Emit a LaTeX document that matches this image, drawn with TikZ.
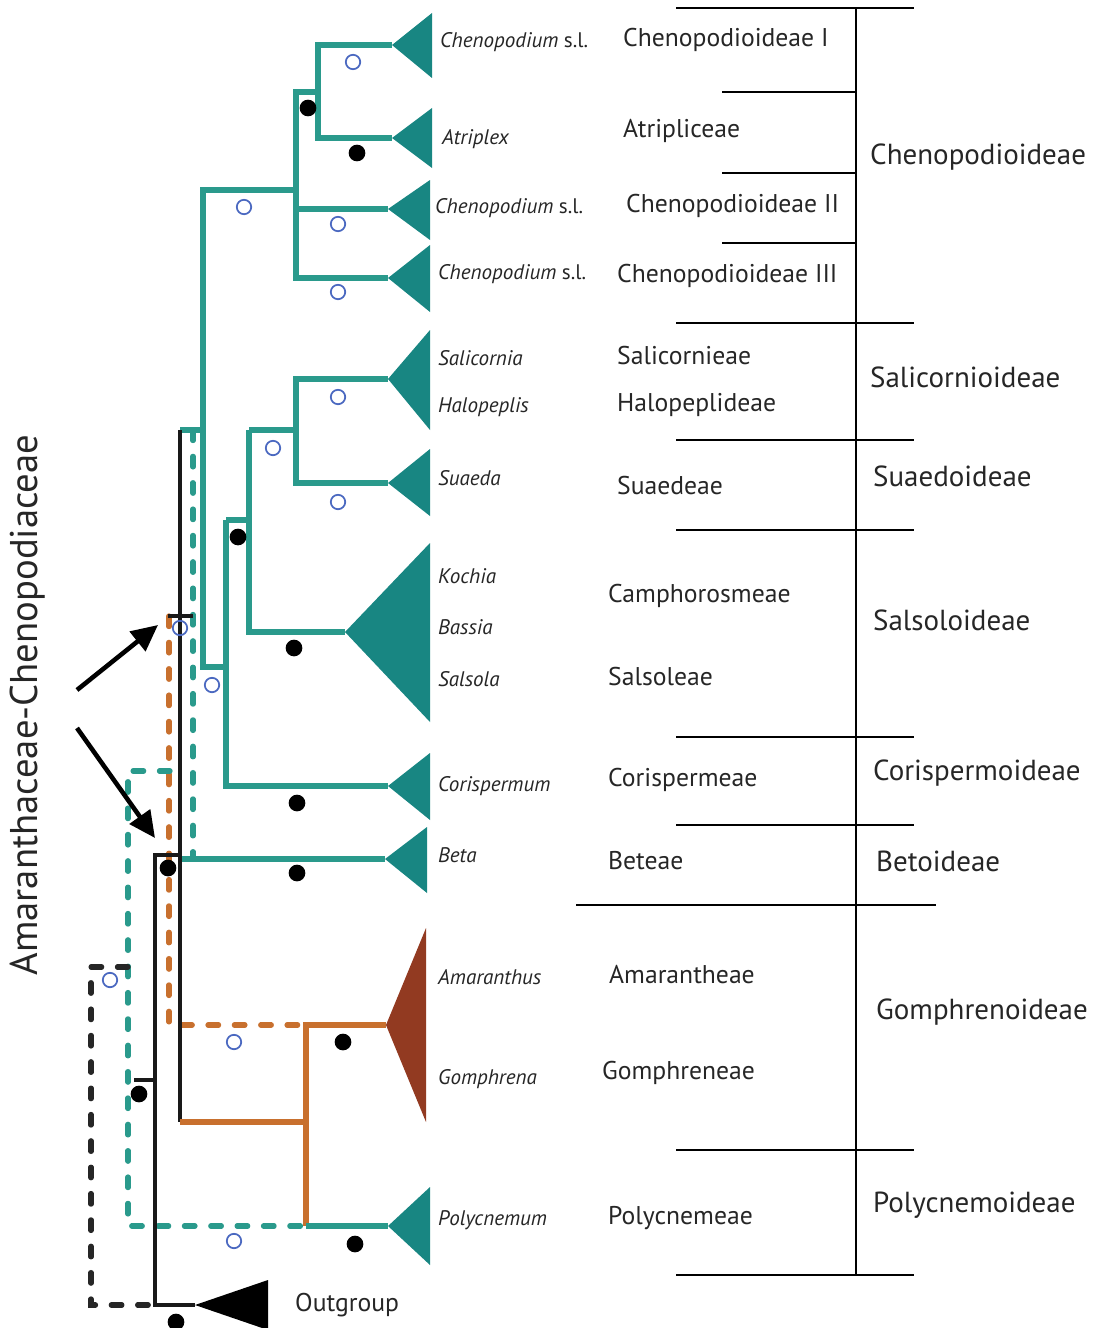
\documentclass[tikz,border=0pt]{standalone}
\usepackage{fontspec}
\setmainfont{PT Sans}
\usetikzlibrary{positioning,arrows.meta}

\definecolor{tealline}{HTML}{2A9A8C}
\definecolor{tealtri}{HTML}{188682}
\definecolor{orangeline}{HTML}{C8702E}
\definecolor{browntri}{HTML}{923A21}
\definecolor{bluecirc}{HTML}{4A68C0}

\tikzset{
  branch/.style={line width=3pt, tealline},
  obranch/.style={line width=3pt, orangeline},
  kbranch/.style={line width=2.6pt, black!90},
  dashbranch/.style={line width=3pt, line cap=round, dash pattern=on 6pt off 9pt},
  rule/.style={line width=1.6pt},
  opencirc/.style={circle, draw=bluecirc, line width=1pt, inner sep=0pt, minimum size=8.2pt},
  fulldot/.style={circle, fill=black, inner sep=0pt, minimum size=9.5pt},
  taxon/.style={anchor=west, font=\fontsize{12}{14}\selectfont\itshape, text=black!85},
  tribe/.style={anchor=west, font=\fontsize{14.6}{17}\selectfont, text=black!85},
  subfam/.style={anchor=west, font=\fontsize{16.5}{19}\selectfont, text=black!85}
}

\begin{document}
\begin{tikzpicture}[x=0.02cm, y=-0.02cm]
    \useasboundingbox (0,0) rectangle (1097,1328);

    % Clade tips
    \coordinate (chA) at (392,45);
    \coordinate (atr) at (392,138);
    \coordinate (chB) at (388,209);
    \coordinate (chC) at (388,278);
    \coordinate (sal) at (388,379);
    \coordinate (sua) at (388,483);
    \coordinate (koc) at (345,632);
    \coordinate (cor) at (388,786);
    \coordinate (bet) at (385,859);
    \coordinate (ama) at (386,1025);
    \coordinate (pol) at (388,1226);
    \coordinate (out) at (195,1305);

    % Inner nodes
    \coordinate (nA) at (318,92);
    \coordinate (nB) at (296,190);
    \coordinate (nC) at (203,430);
    \coordinate (nE) at (226,520);
    \coordinate (nG) at (249,430);
    \coordinate (nH) at (296,430);
    \coordinate (kTop) at (180,430);
    \coordinate (kMid) at (180,859);
    \coordinate (kLow) at (180,1122);
    \coordinate (oNode) at (306,1025);
    \coordinate (kRoot) at (155,1305);

    % Triangles
    \fill[tealtri] (chA) -- ++(40,-32) -- ++(0,65) -- cycle;
    \fill[tealtri] (atr) -- ++(40,-30) -- ++(0,60) -- cycle;
    \fill[tealtri] (chB) -- ++(42,-29) -- ++(0,60) -- cycle;
    \fill[tealtri] (chC) -- ++(42,-33) -- ++(0,67) -- cycle;
    \fill[tealtri] (sal) -- ++(42,-49) -- ++(0,100) -- cycle;
    \fill[tealtri] (sua) -- ++(42,-34) -- ++(0,67) -- cycle;
    \fill[tealtri] (koc) -- ++(85,-89) -- ++(0,179) -- cycle;
    \fill[tealtri] (cor) -- ++(42,-33) -- ++(0,67) -- cycle;
    \fill[tealtri] (bet) -- ++(42,-32) -- ++(0,66) -- cycle;
    \fill[browntri] (ama) -- ++(40,-97) -- ++(0,194) -- cycle;
    \fill[tealtri] (pol) -- ++(42,-39) -- ++(0,78) -- cycle;
    \fill[black] (out) -- ++(73,-25) -- ++(0,50) -- cycle;

    % Dashed alternative topologies
    \draw[dashbranch, tealline] (kTop) ++(13,0) -- (193,859);
    \draw[dashbranch, orangeline] (169,616) -- (169,1025) -- (oNode);
    \draw[dashbranch, tealline] (170,771) -- (128,771) -- (128,1226) -- (306,1226);
    \draw[dashbranch, black!85] (128,967) -- (91,967) -- (91,1305) -- (kRoot);

    % Chenopodioideae
    \draw[branch] (chA) -| (nA) |- (atr);
    \draw[branch] (nA) -- (296,92) |- (chC);
    \draw[branch] (296,209) -- (chB);
    \draw[branch] (nB) -| (nC);
    \draw[branch] (nC) -- (kTop);

    % Salicornioideae to Corispermoideae
    \draw[branch] (nC) |- (226,667);
    \draw[branch] (nE) |- (cor);
    \draw[branch] (nE) -| (nG) |- (koc);
    \draw[branch] (nG) -- (nH);
    \draw[branch] (sal) -| (nH) |- (sua);

    % Beta and black backbone
    \draw[branch] (kMid) -- (bet);
    \draw[kbranch] (kTop) -- (kLow);
    \draw[kbranch] (168,616) -- (193,616);
    \draw[kbranch] (kMid) ++(0,-4) -- (155,855) -- (kRoot) -- (out);
    \draw[kbranch] (134,1080) -- (155,1080);

    % Amaranthaceae s.str.
    \draw[obranch] (kLow) -| (oNode) -- (ama);
    \draw[obranch] (kLow -| oNode) -- (306,1226);
    \draw[branch] (306,1226) -- (pol);

    % Arrows
    \draw[line width=2.6pt, -{Triangle[length=15pt, width=14pt]}] (77,690) -- (158,625);
    \draw[line width=2.6pt, -{Triangle[length=15pt, width=14pt]}] (77,728) -- (155,838);

    % Support circles
    \node[opencirc] (c1) at (353,62) {};
    \node[opencirc] (c2) at (244,207) {};
    \node[opencirc] (c3) at (338,224) {};
    \node[opencirc] (c4) at (338,292) {};
    \node[opencirc] (c5) at (338,397) {};
    \node[opencirc] (c6) at (273,448) {};
    \node[opencirc] (c7) at (338,502) {};
    \node[opencirc] (c8) at (212,685) {};
    \node[opencirc] (c9) at (180,628) {};
    \node[opencirc] (c10) at (110,980) {};
    \node[opencirc] (c11) at (234,1042) {};
    \node[opencirc] (c12) at (234,1241) {};

    % Support dots
    \node[fulldot] (d1) at (308,108) {};
    \node[fulldot] (d2) at (357,153) {};
    \node[fulldot] (d3) at (238,537) {};
    \node[fulldot] (d4) at (294,648) {};
    \node[fulldot] (d5) at (297,803) {};
    \node[fulldot] (d6) at (297,873) {};
    \node[fulldot] (d7) at (168,868) {};
    \node[fulldot] (d8) at (139,1094) {};
    \node[fulldot] (d9) at (343,1042) {};
    \node[fulldot] (d10) at (355,1244) {};
    \node[fulldot] (d11) at (176,1322) {};

    % Taxon labels
    \node[taxon] (tChA) at (434,42) {Chenopodium \upshape s.l.};
    \node[taxon] (tAtr) at (436,139) {Atriplex};
    \node[taxon] (tChB) at (429,208) {Chenopodium \upshape s.l.};
    \node[taxon] (tChC) at (432,274) {Chenopodium \upshape s.l.};
    \node[taxon] (tSal) at (432,358) {Salicornia};
    \node[taxon] (tHal) at (432,407) {Halopeplis};
    \node[taxon] (tSua) at (432,478) {Suaeda};
    \node[taxon] (tKoc) at (432,576) {Kochia};
    \node[taxon] (tBas) at (432,627) {Bassia};
    \node[taxon] (tSals) at (432,679) {Salsola};
    \node[taxon] (tCor) at (432,786) {Corispermum};
    \node[taxon] (tBet) at (432,855) {Beta};
    \node[taxon] (tAma) at (432,977) {Amaranthus};
    \node[taxon] (tGom) at (432,1079) {Gomphrena};
    \node[taxon] (tPol) at (432,1220) {Polycnemum};
    \node[tribe] (tOut) at (289,1305) {Outgroup};

    % Family label
    \node[rotate=90, font=\fontsize{22}{25}\selectfont, text=black!85] (fam) at (28,705) {Amaranthaceae-Chenopodiaceae};

    % Tribes
    \node[tribe] (rChA) at (617,40) {Chenopodioideae I};
    \node[tribe] (rAtr) at (617,131) {Atripliceae};
    \node[tribe] (rChB) at (620,206) {Chenopodioideae II};
    \node[tribe] (rChC) at (611,276) {Chenopodioideae III};
    \node[tribe] (rSal) at (611,356) {Salicornieae};
    \node[tribe] (rHal) at (611,405) {Halopeplideae};
    \node[tribe] (rSua) at (611,486) {Suaedeae};
    \node[tribe] (rCam) at (602,596) {Camphorosmeae};
    \node[tribe] (rSals) at (602,677) {Salsoleae};
    \node[tribe] (rCor) at (602,780) {Corispermeae};
    \node[tribe] (rBet) at (602,861) {Beteae};
    \node[tribe] (rAma) at (603,975) {Amarantheae};
    \node[tribe] (rGom) at (596,1073) {Gomphreneae};
    \node[tribe] (rPol) at (602,1218) {Polycnemeae};

    % Subfamilies
    \node[subfam] (sChe) at (864,157) {Chenopodioideae};
    \node[subfam] (sSal) at (864,377) {Salicornioideae};
    \node[subfam] (sSua) at (867,476) {Suaedoideae};
    \node[subfam] (sSals) at (867,620) {Salsoloideae};
    \node[subfam] (sCor) at (867,773) {Corispermoideae};
    \node[subfam] (sBet) at (870,861) {Betoideae};
    \node[subfam] (sGom) at (870,1012) {Gomphrenoideae};
    \node[subfam] (sPol) at (867,1205) {Polycnemoideae};

    % Bracket rules
    \draw[rule] (856,8) -- (856,1275);
    \draw[rule] (676,8) -- (914,8);
    \draw[rule] (722,92) -- (856,92);
    \draw[rule] (722,173) -- (856,173);
    \draw[rule] (722,243) -- (856,243);
    \draw[rule] (676,323) -- (914,323);
    \draw[rule] (676,440) -- (914,440);
    \draw[rule] (676,530) -- (914,530);
    \draw[rule] (676,737) -- (914,737);
    \draw[rule] (676,825) -- (914,825);
    \draw[rule] (576,905) -- (936,905);
    \draw[rule] (676,1150) -- (914,1150);
    \draw[rule] (676,1275) -- (914,1275);
\end{tikzpicture}
\end{document}
